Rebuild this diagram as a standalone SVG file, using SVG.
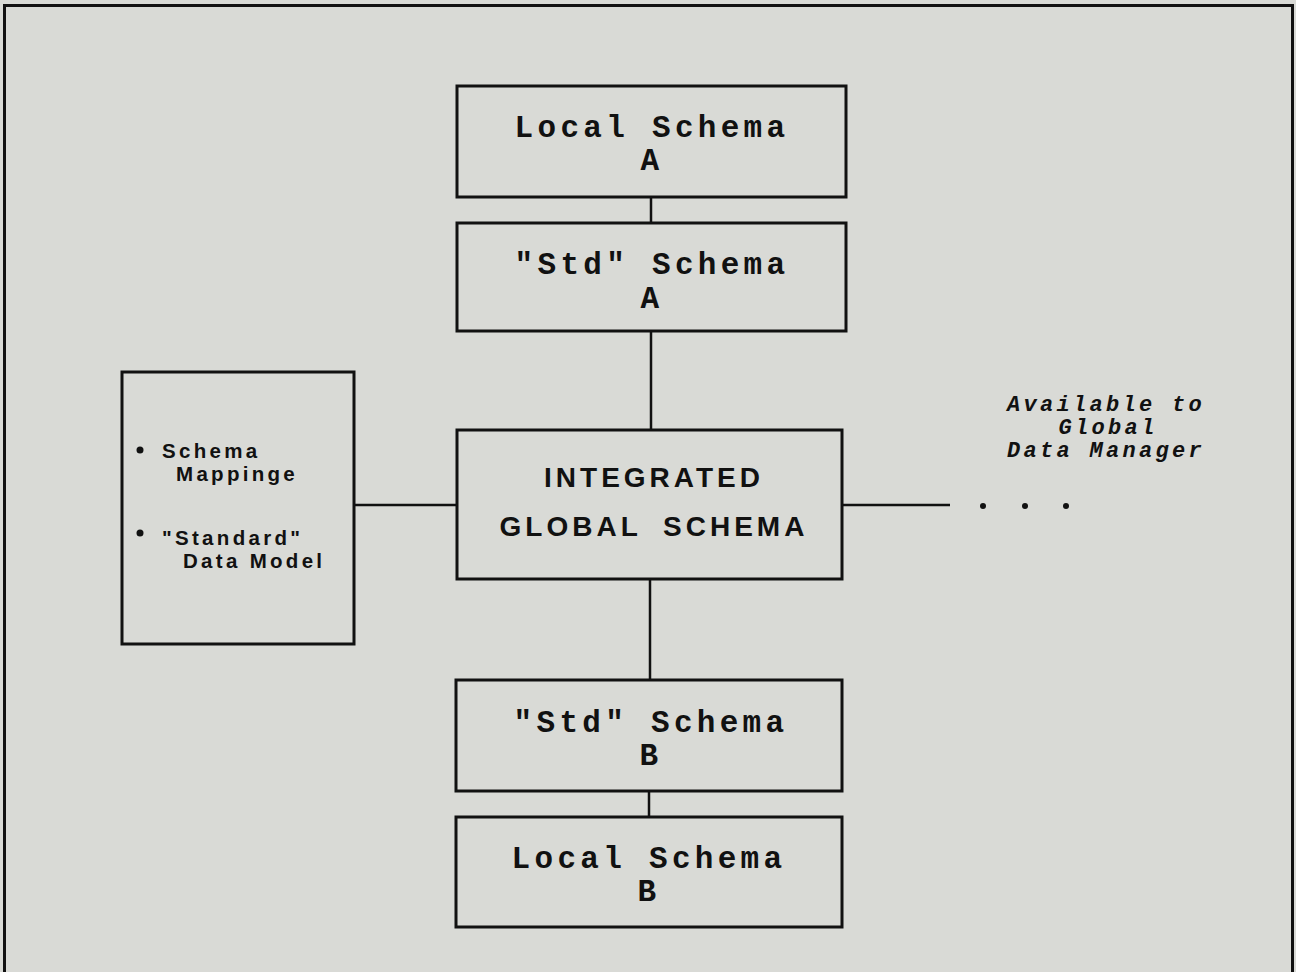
<svg xmlns="http://www.w3.org/2000/svg" width="1296" height="972" viewBox="0 0 1296 972">
  <style>
    .box { fill: none; stroke: #111; stroke-width: 3; }
    .wire { stroke: #111; stroke-width: 2.5; fill: none; }
    .mono { font-family: "Liberation Mono", "DejaVu Sans Mono", monospace; font-weight: bold; font-size: 31px; letter-spacing: 4.3px; fill: #111; text-anchor: middle; }
    .big { font-family: "Liberation Sans", Arial, sans-serif; font-weight: bold; font-size: 28px; letter-spacing: 4px; fill: #111; text-anchor: middle; }
    .note { font-family: "Liberation Sans", Arial, sans-serif; font-weight: bold; font-size: 20.5px; letter-spacing: 3.3px; fill: #111; }
    .ital { font-family: "Liberation Mono", "DejaVu Sans Mono", monospace; font-weight: bold; font-style: italic; font-size: 22px; letter-spacing: 3.3px; fill: #111; text-anchor: middle; }
  </style>

  <rect width="1296" height="972" fill="#d9dad6"/>
  <!-- page frame -->
  <path class="box" d="M4.5,980 V5.5 H1292.5 V980"/>

  <g id="connectors">
    <line class="wire" x1="651" y1="197" x2="651" y2="223"/>
    <line class="wire" x1="651" y1="331" x2="651" y2="430"/>
    <line class="wire" x1="650" y1="579" x2="650" y2="680"/>
    <line class="wire" x1="649" y1="791" x2="649" y2="817"/>
    <line class="wire" x1="354" y1="505" x2="457" y2="505"/>
    <line class="wire" x1="842" y1="505" x2="950" y2="505"/>
  </g>

  <g id="local-a">
    <rect class="box" x="457" y="86" width="389" height="111"/>
    <text class="mono"><tspan x="652" y="137">Local Schema</tspan><tspan x="652" y="170">A</tspan></text>
  </g>

  <g id="std-a">
    <rect class="box" x="457" y="223" width="389" height="108"/>
    <text class="mono"><tspan x="652" y="274">"Std" Schema</tspan><tspan x="652" y="308">A</tspan></text>
  </g>

  <g id="global">
    <rect class="box" x="457" y="430" width="385" height="149"/>
    <text class="big" x="654" y="487">INTEGRATED</text>
    <text class="big" x="654" y="536" word-spacing="10">GLOBAL SCHEMA</text>
  </g>

  <g id="std-b">
    <rect class="box" x="456" y="680" width="386" height="111"/>
    <text class="mono"><tspan x="651" y="732">"Std" Schema</tspan><tspan x="651" y="765">B</tspan></text>
  </g>

  <g id="local-b">
    <rect class="box" x="456" y="817" width="386" height="110"/>
    <text class="mono"><tspan x="649" y="868">Local Schema</tspan><tspan x="649" y="901">B</tspan></text>
  </g>

  <g id="notes">
    <rect class="box" x="122" y="372" width="232" height="272"/>
    <circle cx="140" cy="450" r="3.5" fill="#111"/>
    <text class="note"><tspan x="162" y="458">Schema</tspan><tspan x="176" y="481">Mappinge</tspan></text>
    <circle cx="140" cy="533" r="3.5" fill="#111"/>
    <text class="note"><tspan x="162" y="545">"Standard"</tspan><tspan x="183" y="568">Data Model</tspan></text>
  </g>

  <g id="gdm">
    <text class="ital"><tspan x="1106" y="411">Available to</tspan><tspan x="1108" y="434">Global</tspan><tspan x="1106" y="457">Data Manager</tspan></text>
    <circle cx="983" cy="506" r="3" fill="#111"/>
    <circle cx="1025" cy="506" r="3" fill="#111"/>
    <circle cx="1066" cy="506" r="3" fill="#111"/>
  </g>
</svg>
